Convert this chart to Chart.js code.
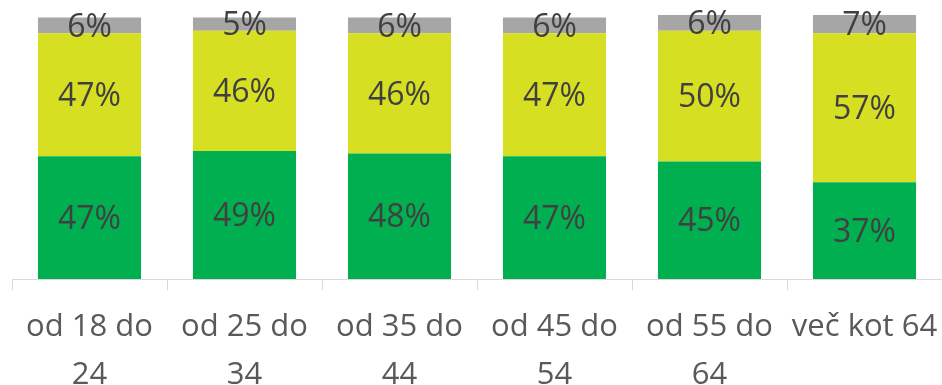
<!DOCTYPE html>
<html>
<head>
<meta charset="utf-8">
<script src="https://cdn.jsdelivr.net/npm/chart.js@4/dist/chart.umd.min.js"></script>
<style>
  html, body { margin: 0; padding: 0; background: #fff; }
  #wrap { width: 942px; height: 385px; }
</style>
</head>
<body>
<div id="wrap"><canvas id="ageChart"></canvas></div>
<script>
// age groups, wrapped the way they show under the axis
const ageLabels = [
  ['od 18 do', '24'],
  ['od 25 do', '34'],
  ['od 35 do', '44'],
  ['od 45 do', '54'],
  ['od 55 do', '64'],
  ['več kot 64']
];

// shares per group (%)
const greenShare = [47, 49, 48, 47, 45, 37];
const yellowShare = [47, 46, 46, 47, 50, 57];
const greyShare = [6, 5, 6, 6, 6, 7];

const FONT = '"Open Sans", "Liberation Sans", sans-serif';

// writes "NN%" in the middle of every segment
const segmentLabels = {
  id: 'segmentLabels',
  afterDatasetsDraw(chart) {
    const ctx = chart.ctx;
    ctx.save();
    ctx.font = '32px ' + FONT;
    ctx.fillStyle = '#404040';
    ctx.textAlign = 'center';
    ctx.textBaseline = 'middle';
    chart.data.datasets.forEach((ds, i) => {
      const meta = chart.getDatasetMeta(i);
      meta.data.forEach((bar, j) => {
        const p = bar.getCenterPoint();
        ctx.fillText(ds.data[j] + '%', p.x, p.y + 2);
      });
    });
    ctx.restore();
  }
};

new Chart(document.getElementById('ageChart'), {
  type: 'bar',
  data: {
    labels: ageLabels,
    datasets: [
      { data: greenShare, backgroundColor: '#00B050' },
      { data: yellowShare, backgroundColor: '#D7DF23' },
      { data: greyShare, backgroundColor: '#A6A6A6' }
    ]
  },
  options: {
    responsive: true,
    maintainAspectRatio: false,
    animation: false,
    layout: { padding: { top: 15, left: 12, right: 0, bottom: 0 } },
    datasets: {
      bar: { barPercentage: 0.665, categoryPercentage: 1, borderWidth: 0 }
    },
    plugins: {
      legend: { display: false },
      tooltip: { enabled: false }
    },
    scales: {
      x: {
        stacked: true,
        offset: true,
        // fixed band under the axis, labels may run off the bottom edge;
        // no extra side padding for the wide last label
        afterFit(scale) {
          scale.height = 106;
          scale.paddingLeft = 0;
          scale.paddingRight = 0;
        },
        grid: {
          offset: true,
          drawOnChartArea: false,
          drawTicks: true,
          tickLength: 11,
          color: '#D9D9D9'
        },
        border: { display: true, color: '#D9D9D9', width: 1 },
        ticks: {
          color: '#595959',
          padding: 14,
          maxRotation: 0,
          autoSkip: false,
          font: { family: FONT, size: 31, lineHeight: 1.52 }
        }
      },
      y: {
        stacked: true,
        display: false,
        min: 0,
        max: 101
      }
    }
  },
  plugins: [segmentLabels]
});
</script>
</body>
</html>
